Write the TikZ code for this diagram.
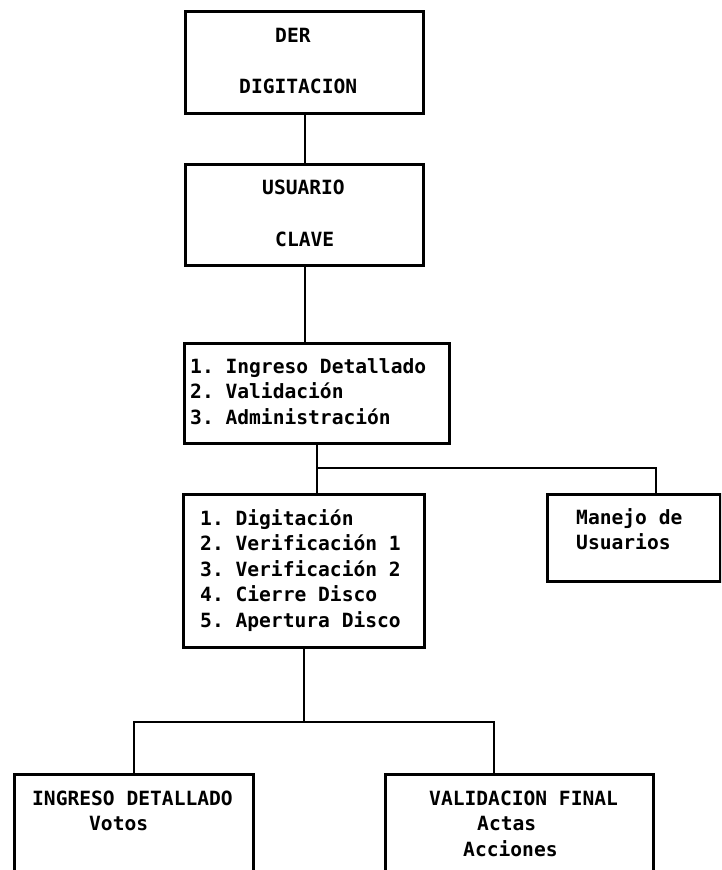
\documentclass[tikz,border=0pt]{standalone}
\usepackage{fontspec}
\setmonofont{DejaVu Sans Mono}
\usetikzlibrary{positioning}

\begin{document}
\begin{tikzpicture}[x=1pt,y=-1pt,
  caja/.style={draw,line width=2.6pt,anchor=north west,inner sep=0pt},
  texto/.style={anchor=base west,inner sep=0pt,align=left,font=\ttfamily\bfseries\fontsize{19.6}{25.5}\selectfont},
  enlace/.style={line width=2.6pt}]
  \useasboundingbox (0,0) rectangle (721,870);
  \clip (0,0) rectangle (721,870);
  \foreach \nom/\x/\y/\w/\h in {der/184/10/238/102, usuario/184/163/238/101, menu/183/342/265/100,
    opciones/182/493/241/153, manejo/546/493/173/87, ingreso/13/773/239/140, validacion/384/773/268/140}
    \node[caja,minimum width=\w pt,minimum height=\h pt] (\nom) at (\x,\y) {};
  \node[texto] (t-der) at (239,93) {\hspace*{36pt}DER\\[25.5pt]DIGITACION};
  \node[texto] (t-usuario) at (262,246) {USUARIO\\[26pt]\hspace*{13pt}CLAVE};
  \node[texto] (t-menu) at (190,424) {1. Ingreso Detallado\\2. Validación\\3. Administración};
  \node[texto] (t-opciones) at (200,627) {1. Digitación\\2. Verificación 1\\3. Verificación 2\\4. Cierre Disco\\5. Apertura Disco};
  \node[texto] (t-manejo) at (576,549.5) {Manejo de\\Usuarios};
  \node[texto] (t-ingreso) at (32,830.5) {INGRESO DETALLADO\\\hspace*{57pt}Votos};
  \node[texto] (t-validacion) at (429,856) {VALIDACION FINAL\\\hspace*{48pt}Actas\\\hspace*{34pt}Acciones};
  \coordinate (eje) at (305,0);
  \coordinate (rama1) at (0,468);
  \coordinate (bajada1) at (656,0);
  \coordinate (rama2) at (0,722);
  \coordinate (bajada2) at (494,0);
  \draw[enlace] (der.south -| eje) -- (usuario.north -| eje);
  \draw[enlace] (usuario.south -| eje) -- (menu.north -| eje);
  \draw[enlace] (menu.south) -- (menu.south |- opciones.north);
  \draw[enlace] (menu.south |- rama1) -| (manejo.north -| bajada1);
  \draw[enlace] (opciones.south) -- (opciones.south |- rama2);
  \draw[enlace] (ingreso.north) |- (rama2 -| bajada2) -- (validacion.north -| bajada2);
\end{tikzpicture}
\end{document}
